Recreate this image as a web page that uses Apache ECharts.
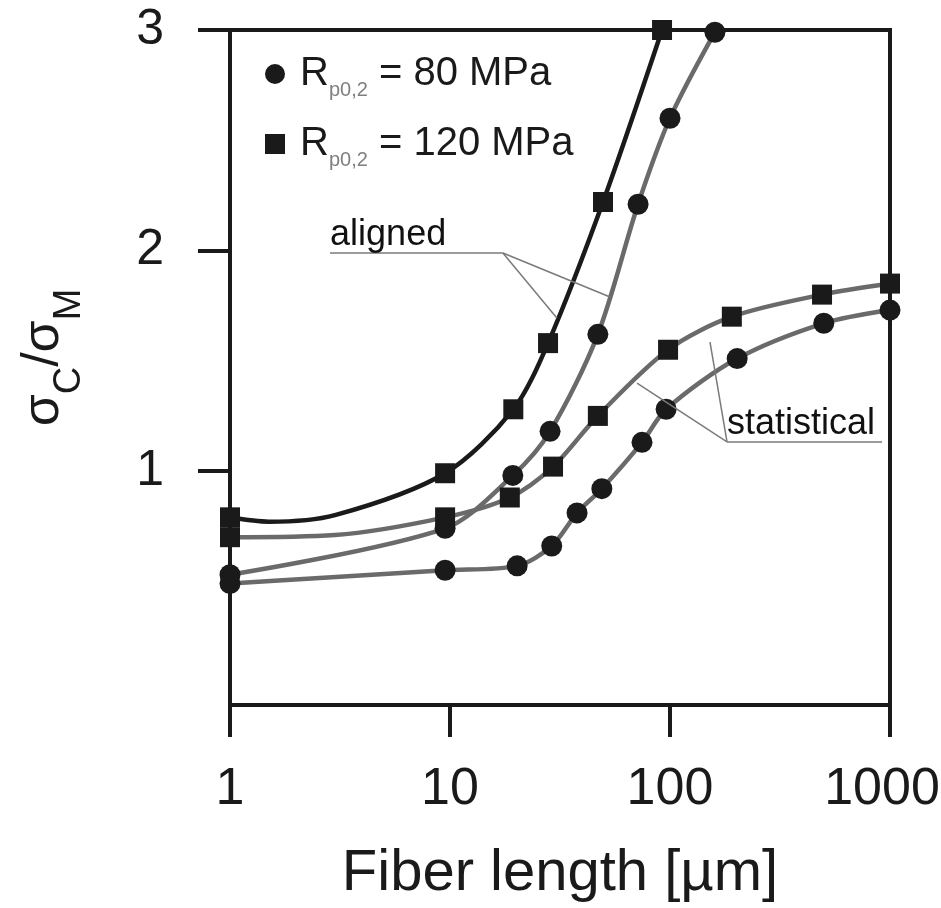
<!DOCTYPE html>
<html>
<head>
<meta charset="utf-8">
<script src="https://cdn.jsdelivr.net/npm/echarts@6.0.0/dist/echarts.min.js"></script>
<style>
  html, body { margin: 0; padding: 0; background: #fff; }
  #main { width: 941px; height: 908px; }
</style>
</head>
<body>
<div id="main"></div>
<script>
// fibre length [um] / strength ratio
// points with symbol:'none' are read from the curve between the markers
var aligned120 = [[1, 0.79], [1.5, 0.77, 'none'], [3, 0.8, 'none'], [9.5, 0.99], [19.4, 1.28], [27.9, 1.58], [49.6, 2.22], [92, 3.0]];
var aligned80 = [[1, 0.53], [9.5, 0.74], [19.3, 0.98], [28.5, 1.18], [47, 1.62], [71.6, 2.21], [100, 2.6], [160, 2.99]];
var stat120 = [[1, 0.70], [3, 0.71, 'none'], [9.5, 0.79], [18.7, 0.88], [29.4, 1.02], [47, 1.25], [98, 1.55], [191, 1.70], [491, 1.80], [1000, 1.85]];
var stat80 = [[1, 0.49], [9.5, 0.55], [20.2, 0.57], [29, 0.66], [37.8, 0.81], [49, 0.92], [74.6, 1.13], [96, 1.28], [202, 1.51], [500, 1.67], [1000, 1.73]];

var yTicks = [1, 2, 3];
var legendNames = ['80 MPa', '120 MPa'];

// leader lines of the two annotations, in data coordinates
var alignedLeaders = [[[2.85, 1.989], [17.4, 1.989]], [[17.4, 1.989], [53.4, 1.789]], [[17.4, 1.989], [30.6, 1.694]]];
var statLeaders = [[[181.6, 1.132], [920, 1.132]], [[181.6, 1.132], [70.8, 1.399]], [[181.6, 1.132], [152, 1.585]]];

var INK = '#1a1a1a';
var GREY = '#6a6a6a';

function toData(arr) {
    return arr.map(function (p) {
        var item = { value: [p[0], p[1]] };
        if (p[2]) item.symbol = p[2];
        return item;
    });
}

function leaderData(segs, text) {
    return segs.map(function (s, i) {
        var seg = [{ coord: s[0] }, { coord: s[1] }];
        if (i === 0) {
            seg[0].label = {
                show: true,
                position: 'insideStartTop',
                formatter: text,
                fontSize: 36,
                color: '#111',
                distance: 0
            };
        }
        return seg;
    });
}

var myChart = echarts.init(document.getElementById('main'));

function curve(name, data, symbol, size, lineColor, extra) {
    var s = {
        name: name,
        type: 'line',
        data: toData(data),
        smooth: 0.3,
        clip: false,
        symbol: symbol,
        symbolSize: size,
        itemStyle: { color: INK },
        lineStyle: { color: lineColor, width: 4.5 },
        emphasis: { disabled: true }
    };
    return Object.assign(s, extra || {});
}

var lineMark = function (segs, text) {
    return {
        silent: true,
        symbol: ['none', 'none'],
        lineStyle: { color: '#7a7a7a', width: 1.5, type: 'solid' },
        label: { show: false },
        emphasis: { disabled: true },
        data: leaderData(segs, text)
    };
};

var option = {
    animation: false,
    textStyle: { fontFamily: 'Liberation Sans, Arial, sans-serif' },
    grid: {
        left: 230, right: 51, top: 30, bottom: 203,
        show: true, borderColor: INK, borderWidth: 4,
        containLabel: false, outerBoundsMode: 'none'
    },
    legend: {
        orient: 'vertical',
        left: 260,
        top: 49,
        itemWidth: 20,
        itemHeight: 20,
        itemGap: 24,
        selectedMode: false,
        data: [
            { name: legendNames[0], icon: 'circle', itemStyle: { color: INK } },
            { name: legendNames[1], icon: 'rect', itemStyle: { color: INK } }
        ],
        formatter: function (name) {
            return '{r|R}{s|p0,2}{t| = ' + name + '}';
        },
        textStyle: {
            color: INK,
            rich: {
                r: { fontSize: 40, lineHeight: 40, verticalAlign: 'top', padding: [0, 0, 0, 10], color: INK },
                s: { fontSize: 20, lineHeight: 20, verticalAlign: 'top', padding: [26, 0, 0, 0], color: '#808080' },
                t: { fontSize: 40, lineHeight: 40, verticalAlign: 'top', color: INK }
            }
        }
    },
    xAxis: {
        type: 'log',
        logBase: 10,
        min: 1,
        max: 1000,
        name: 'Fiber length [µm]',
        nameLocation: 'middle',
        nameGap: 140,
        nameTextStyle: { fontSize: 58, color: INK },
        axisLine: { onZero: false, lineStyle: { color: INK, width: 4 } },
        axisTick: { length: 32, lineStyle: { color: INK, width: 4 } },
        minorTick: { show: false },
        splitLine: { show: false },
        axisLabel: {
            margin: 59,
            color: INK,
            fontSize: 52,
            formatter: function (v) {
                var n = Math.round(v);
                return n === 1000 ? '{e|' + n + '}' : '{n|' + n + '}';
            },
            rich: {
                n: { fontSize: 52, color: INK },
                e: { fontSize: 52, color: INK, padding: [0, 16, 0, 0] }
            }
        }
    },
    yAxis: {
        type: 'value',
        min: -0.061,
        max: 3,
        name: '{g|σ}{c|C}{g|/σ}{c|M}',
        nameLocation: 'middle',
        nameGap: 160,
        nameRotate: 90,
        nameTextStyle: {
            color: INK,
            padding: [0, 0, 0, 20],
            rich: {
                g: { fontSize: 52, lineHeight: 52, verticalAlign: 'top', color: INK },
                c: { fontSize: 38, lineHeight: 38, verticalAlign: 'top', padding: [33, 0, 0, 0], color: INK }
            }
        },
        axisLine: { show: true, onZero: false, lineStyle: { color: INK, width: 4 } },
        axisTick: { show: true, length: 32, customValues: yTicks, lineStyle: { color: INK, width: 4 } },
        splitLine: { show: false },
        axisLabel: { customValues: yTicks, margin: 66, fontSize: 50, color: INK }
    },
    series: [
        curve(legendNames[1], aligned120, 'rect', 20, INK),
        curve(legendNames[0], aligned80, 'circle', 21, GREY, { markLine: lineMark(alignedLeaders, 'aligned') }),
        curve(legendNames[1], stat120, 'rect', 20, GREY),
        curve(legendNames[0], stat80, 'circle', 21, GREY, { markLine: lineMark(statLeaders, 'statistical') })
    ]
};

myChart.setOption(option);
</script>
</body>
</html>
